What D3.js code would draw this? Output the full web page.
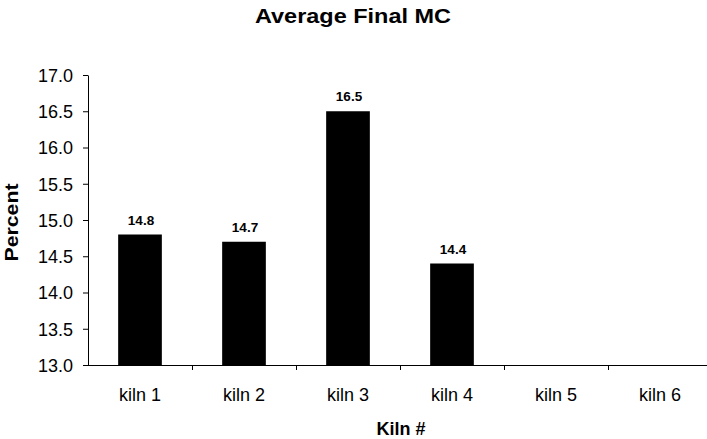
<!DOCTYPE html>
<html><head><meta charset="utf-8">
<script src="https://cdn.jsdelivr.net/npm/d3@7"></script>
<style>body{margin:0;background:#fff}svg{display:block}text{font-family:"Liberation Sans",Arial,sans-serif}</style>
</head><body>
<svg id="c" width="707" height="439"></svg>
<script>
const categories = ["kiln 1","kiln 2","kiln 3","kiln 4","kiln 5","kiln 6"];
const values = [14.8, 14.7, 16.5, 14.4, null, null];
const yTicks = [13.0,13.5,14.0,14.5,15.0,15.5,16.0,16.5,17.0];
const title = "Average Final MC";
const xTitle = "Kiln #";
const yTitle = "Percent";

(function(){
const svg = d3.select("#c");
const mL = 88, mR = 712, mT = 75, mB = 365;
const x = d3.scaleBand().domain(categories).range([mL, mR]).paddingInner(0.58).paddingOuter(0.29);
const y = d3.scaleLinear().domain([13, 17]).range([mB, mT]);
const data = categories.map((c,i)=>({c, v:values[i]})).filter(d=>d.v!=null);

// bars
svg.append("g").selectAll("rect").data(data)
  .join("rect")
  .attr("x", d=>x(d.c)).attr("width", x.bandwidth())
  .attr("y", d=>y(d.v)).attr("height", d=>y(13)-y(d.v))
  .attr("fill","#000");

// value labels
svg.append("g").selectAll("text").data(data)
  .join("text")
  .attr("x", d=>x(d.c)+x.bandwidth()/2+1).attr("y", d=>y(d.v)-10)
  .attr("text-anchor","middle").attr("font-size","13.5px").attr("font-weight","bold")
  .text(d=>d3.format(".1f")(d.v));

// y axis
const ya = svg.append("g").attr("transform",`translate(${mL},0)`)
  .call(d3.axisLeft(y).tickValues(yTicks).tickFormat(d3.format(".1f")).tickSize(5).tickSizeOuter(0).tickPadding(10));
ya.select(".domain").attr("stroke","#000");
ya.selectAll(".tick line").attr("stroke","#000");
ya.selectAll("text").attr("font-size","18px").attr("fill","#000").attr("dy","0.36em");

// x axis
const xa = svg.append("g").attr("transform",`translate(0,${mB})`);
xa.append("line").attr("x1",mL).attr("x2",mR).attr("y1",0.5).attr("y2",0.5).attr("stroke","#000");
const step = x.step();
const bounds = d3.range(1, categories.length).map(i => Math.round(x(categories[i]) - x.paddingInner()*step/2)+0.5);
xa.selectAll("line.t").data(bounds).join("line").attr("class","t")
  .attr("x1",d=>d).attr("x2",d=>d).attr("y1",0).attr("y2",5).attr("stroke","#000");
xa.selectAll("text").data(categories).join("text")
  .attr("x", d=>x(d)+x.bandwidth()/2).attr("y", 36)
  .attr("text-anchor","middle").attr("font-size","18px").text(d=>d);

// titles
svg.append("text").attr("x",353).attr("y",23).attr("text-anchor","middle")
  .attr("font-size","21px").attr("font-weight","bold")
  .attr("textLength",196).attr("lengthAdjust","spacingAndGlyphs").text(title);
svg.append("text").attr("x",401).attr("y",435).attr("text-anchor","middle")
  .attr("font-size","18px").attr("font-weight","bold").text(xTitle);
svg.append("text").attr("transform","translate(18,222.5) rotate(-90)").attr("text-anchor","middle")
  .attr("font-size","18px").attr("font-weight","bold")
  .attr("textLength",78).attr("lengthAdjust","spacingAndGlyphs").text(yTitle);
})();
</script>
</body></html>
